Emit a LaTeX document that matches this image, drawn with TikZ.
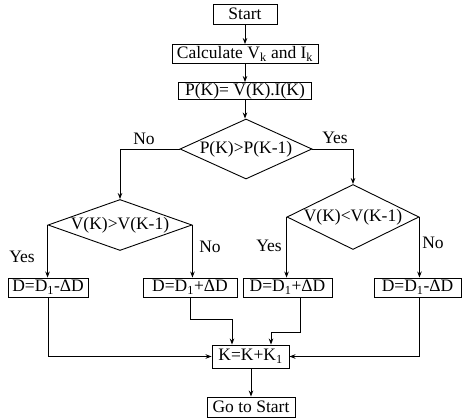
\documentclass[tikz,border=0pt]{standalone}
\usepackage{fontspec}
\setmainfont{Liberation Serif}
\usetikzlibrary{shapes.geometric,arrows.meta}
\begin{document}
\begin{tikzpicture}[x=1pt,y=-1pt,
  font=\fontsize{17.5}{20}\selectfont,
  line width=0.9pt,
  box/.style={draw,rectangle,inner sep=0pt},
  dec/.style={draw,diamond,inner sep=0pt,shape aspect=1},
  arr/.style={-{Stealth[length=6pt,width=4.5pt]}},
  lbl/.style={inner sep=0pt}]
\useasboundingbox (0,0) rectangle (462,419);
\node[box,minimum width=64pt,minimum height=20pt] (start) at (245,14) {Start};
\node[box,minimum width=146pt,minimum height=19pt] (calc) at (245,54) {Calculate V\textsubscript{k} and I\textsubscript{k}};
\node[box,minimum width=133pt,minimum height=17pt] (pk) at (245,91) {P(K)= V(K).I(K)};
\node[dec,minimum width=132pt,minimum height=60pt] (d1) at (246,149) {\makebox[0pt]{P(K)>P(K-1)}};
\node[dec,minimum width=144pt,minimum height=51pt] (d2) at (120,225) {\makebox[0pt]{V(K)>V(K-1)}};
\node[dec,minimum width=132pt,minimum height=65pt] (d3) at (353,217) {\makebox[0pt]{V(K)<V(K-1)}};
\node[box,minimum width=80pt,minimum height=19pt] (b1) at (48,287.5) {D=D\textsubscript{1}-ΔD};
\node[box,minimum width=94pt,minimum height=19pt] (b2) at (190,287.5) {D=D\textsubscript{1}+ΔD};
\node[box,minimum width=89pt,minimum height=19pt] (b3) at (287.5,287.5) {D=D\textsubscript{1}+ΔD};
\node[box,minimum width=87pt,minimum height=19pt] (b4) at (417.5,287.5) {D=D\textsubscript{1}-ΔD};
\node[box,minimum width=77pt,minimum height=23pt] (k) at (250.5,356.5) {K=K+K\textsubscript{1}};
\node[box,minimum width=88pt,minimum height=20pt] (go) at (251,407) {Go to Start};
\coordinate (c2a) at (190,319);
\coordinate (c2b) at (232,319);
\coordinate (c3a) at (300,332);
\coordinate (c3b) at (271,332);
\node[lbl] (no1) at (144,139) {No};
\node[lbl] (yes1) at (335,138) {Yes};
\node[lbl] (yes2) at (22,257) {Yes};
\node[lbl] (no2) at (210,247) {No};
\node[lbl] (yes3) at (269,246) {Yes};
\node[lbl] (no3) at (433,243) {No};
\draw[arr] (start) -- (calc);
\draw[arr] (calc) -- (pk);
\draw[arr] (pk.south) -- (pk.south |- d1.north);
\draw[arr] (d1.west) -| (d2.north);
\draw[arr] (d1.east) -| (d3.north);
\draw[arr] (d2.west) -- (d2.west |- b1.north);
\draw[arr] (d2.east) -- (d2.east |- b2.north);
\draw[arr] (d3.west) -- (d3.west |- b3.north);
\draw[arr] (d3.east) -- (d3.east |- b4.north);
\draw[arr] (b1.south) |- (k.west);
\draw[arr] (c2a |- b2.south) -- (c2a) -- (c2b) -- (c2b |- k.north);
\draw[arr] (c3a |- b3.south) -- (c3a) -- (c3b) -- (c3b |- k.north);
\draw[arr] (d3.east |- b4.south) |- (k.east);
\draw[arr] (k.south -| go.north) -- (go.north);
\end{tikzpicture}
\end{document}
